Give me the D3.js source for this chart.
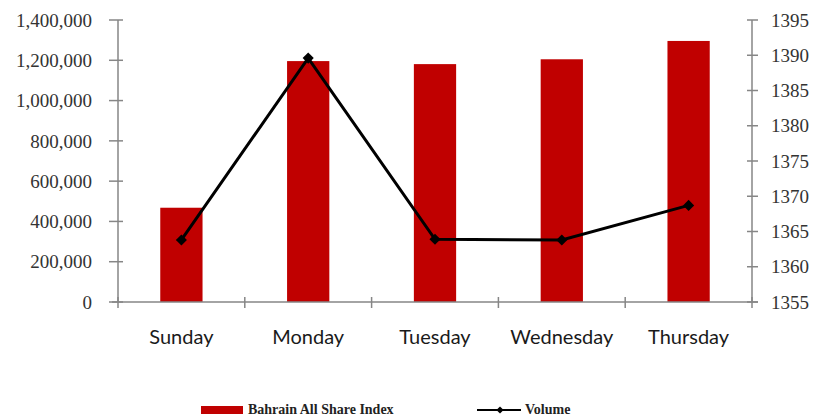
<!DOCTYPE html>
<html><head><meta charset="utf-8">
<script src="https://cdn.jsdelivr.net/npm/d3@7"></script>
<style>body{margin:0;background:#fff}svg{display:block}</style>
</head><body><svg id="c" width="823" height="417"></svg>
<script>
const categories = ["Sunday","Monday","Tuesday","Wednesday","Thursday"];
const barValues = [468000, 1196000, 1181000, 1205000, 1296000];
const lineValues = [1363.8, 1389.6, 1363.9, 1363.8, 1368.7];
const leftTicks = [0,200000,400000,600000,800000,1000000,1200000,1400000];
const rightTicks = [1355,1360,1365,1370,1375,1380,1385,1390,1395];
const barName = "Bahrain All Share Index";
const lineName = "Volume";

const svg = d3.select("#c");
const L = 118, R = 752, T = 20, B = 302;
const axisColor = "#868686";
const x = d3.scaleBand().domain(categories).range([L, R]).paddingInner(0).paddingOuter(0);
const yL = d3.scaleLinear().domain([0, 1400000]).range([B, T]);
const yR = d3.scaleLinear().domain([1355, 1395]).range([B, T]);
const fmt = d3.format(",");

// bars
const bw = x.bandwidth() / 3;
svg.append("g").selectAll("rect").data(categories).join("rect")
  .attr("x", d => x(d) + x.bandwidth()/2 - bw/2)
  .attr("y", (d,i) => yL(barValues[i]))
  .attr("width", bw)
  .attr("height", (d,i) => B - yL(barValues[i]))
  .attr("fill", "#C00000");

// axes
const ax = svg.append("g").attr("stroke", axisColor).attr("stroke-width", 1.5);
ax.append("line").attr("x1", L).attr("x2", L).attr("y1", T).attr("y2", B);
ax.append("line").attr("x1", R).attr("x2", R).attr("y1", T).attr("y2", B);
ax.append("line").attr("x1", L-6).attr("x2", R+6).attr("y1", B).attr("y2", B);
ax.selectAll(".lt").data(leftTicks).join("line")
  .attr("x1", L-9).attr("x2", L+5).attr("y1", d => yL(d)).attr("y2", d => yL(d));
ax.selectAll(".rt").data(rightTicks).join("line")
  .attr("x1", R-5).attr("x2", R+6).attr("y1", d => yR(d)).attr("y2", d => yR(d));
const catEdges = categories.map(c => x(c)).concat([R]);
ax.selectAll(".bt").data(catEdges).join("line")
  .attr("x1", d => d).attr("x2", d => d).attr("y1", B-5).attr("y2", B+6);

// tick labels
svg.append("g").selectAll("text").data(leftTicks).join("text")
  .attr("x", 92).attr("y", d => yL(d)).attr("dy", "0.35em")
  .attr("text-anchor", "end")
  .attr("font-family", "'Liberation Serif', 'DejaVu Serif', serif")
  .attr("font-size", 19).attr("fill", "#333")
  .text(d => fmt(d));
svg.append("g").selectAll("text").data(rightTicks).join("text")
  .attr("x", 771).attr("y", d => yR(d)).attr("dy", "0.35em")
  .attr("text-anchor", "start")
  .attr("font-family", "'Liberation Serif', 'DejaVu Serif', serif")
  .attr("font-size", 19).attr("fill", "#333")
  .text(d => d);
svg.append("g").selectAll("text").data(categories).join("text")
  .attr("x", d => x(d) + x.bandwidth()/2).attr("y", 344)
  .attr("text-anchor", "middle")
  .attr("font-family", "Lato, 'Open Sans', sans-serif")
  .attr("font-size", 20).attr("fill", "#1a1a1a")
  .text(d => d);

// line
const pts = categories.map((c,i) => [x(c) + x.bandwidth()/2, yR(lineValues[i])]);
svg.append("path").attr("d", d3.line()(pts))
  .attr("fill", "none").attr("stroke", "#000").attr("stroke-width", 3);
const marker = d3.symbol().type(d3.symbolSquare).size(62);
svg.append("g").selectAll("path").data(pts).join("path")
  .attr("transform", d => `translate(${d[0]},${d[1]}) rotate(45)`)
  .attr("d", marker).attr("fill", "#000");

// legend
const lg = svg.append("g");
lg.append("rect").attr("x", 201).attr("y", 406).attr("width", 42).attr("height", 8).attr("fill", "#C00000");
lg.append("text").attr("x", 248).attr("y", 414)
  .attr("font-family", "'Liberation Serif', serif").attr("font-weight", "bold")
  .attr("font-size", 14).attr("fill", "#222").text(barName);
lg.append("line").attr("x1", 477).attr("x2", 521).attr("y1", 410).attr("y2", 410)
  .attr("stroke", "#000").attr("stroke-width", 2);
lg.append("path").attr("transform", "translate(500,410) rotate(45)")
  .attr("d", d3.symbol().type(d3.symbolSquare).size(26)).attr("fill", "#000");
lg.append("text").attr("x", 525).attr("y", 414)
  .attr("font-family", "'Liberation Serif', serif").attr("font-weight", "bold")
  .attr("font-size", 14).attr("fill", "#222").text(lineName);
</script></body></html>
